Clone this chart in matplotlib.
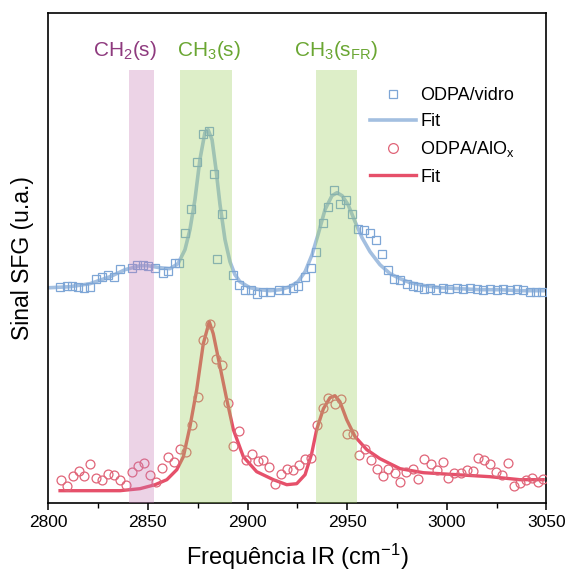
import numpy as np
import matplotlib
matplotlib.use('Agg')
from matplotlib import pyplot as plt

plt.rcParams['font.family'] = ['Liberation Sans', 'DejaVu Sans']
plt.rcParams['mathtext.fontset'] = 'custom'
plt.rcParams['mathtext.rm'] = 'Liberation Sans'
plt.rcParams['mathtext.it'] = 'Liberation Sans'

# ODPA/vidro (measured)
vidro_x = [2805.9, 2809.2, 2812.0, 2815.1, 2818.1, 2820.9, 2823.9, 2826.8, 2830.1, 2833.0,
           2836.0, 2841.9, 2844.4, 2847.4, 2850.2, 2853.6, 2857.4, 2860.2, 2863.6, 2865.8,
           2868.6, 2871.6, 2874.5, 2877.8, 2880.8, 2883.4, 2884.6, 2887.1, 2892.6, 2895.9,
           2898.7, 2901.8, 2904.6, 2907.6, 2911.3, 2916.0, 2919.3, 2922.7, 2925.5, 2928.9,
           2931.7, 2934.4, 2938.0, 2940.6, 2943.4, 2946.4, 2949.4, 2952.6, 2955.6, 2958.5,
           2961.5, 2964.5, 2967.4, 2970.7, 2973.5, 2976.6, 2979.9, 2982.9, 2985.7, 2988.6,
           2991.6, 2994.6, 2998.3, 3001.3, 3005.0, 3008.3, 3011.7, 3015.1, 3018.4, 3021.7,
           3025.1, 3028.4, 3031.8, 3035.1, 3038.1, 3041.8, 3044.8, 3047.7]
vidro_y = [2.16, 2.17, 2.17, 2.16, 2.15, 2.16, 2.24, 2.26, 2.28, 2.26,
           2.34, 2.35, 2.38, 2.38, 2.37, 2.35, 2.30, 2.32, 2.40, 2.40,
           2.70, 2.94, 3.41, 3.69, 3.72, 3.29, 2.44, 2.89, 2.28, 2.18,
           2.13, 2.13, 2.09, 2.11, 2.11, 2.13, 2.13, 2.15, 2.17, 2.26,
           2.35, 2.51, 2.80, 2.96, 3.13, 2.99, 3.03, 2.89, 2.74, 2.73,
           2.70, 2.63, 2.49, 2.33, 2.24, 2.23, 2.19, 2.17, 2.16, 2.14,
           2.15, 2.13, 2.15, 2.14, 2.15, 2.14, 2.15, 2.14, 2.13, 2.14,
           2.13, 2.14, 2.13, 2.14, 2.13, 2.11, 2.11, 2.11]

# ODPA/vidro (fit)
vidro_fit_x = [2800.9, 2810.9, 2820.9, 2831.0, 2838.5, 2846.0, 2850.0, 2856.0, 2861.0, 2865.1,
               2868.6, 2871.1, 2873.6, 2876.1, 2878.6, 2880.2, 2882.2, 2884.2, 2886.2, 2888.7,
               2891.2, 2893.7, 2896.2, 2901.2, 2906.3, 2911.3, 2916.3, 2921.3, 2925.3, 2928.9,
               2932.4, 2935.4, 2938.9, 2942.4, 2944.9, 2947.5, 2950.5, 2954.0, 2957.5, 2961.5,
               2966.5, 2971.6, 2976.6, 2981.6, 2989.1, 2996.7, 3006.7, 3016.8, 3026.8, 3036.8,
               3049.3]
vidro_fit_y = [2.15, 2.16, 2.19, 2.26, 2.33, 2.37, 2.37, 2.35, 2.34, 2.39,
               2.53, 2.73, 3.03, 3.43, 3.70, 3.73, 3.63, 3.33, 2.98, 2.63,
               2.41, 2.28, 2.21, 2.15, 2.13, 2.12, 2.13, 2.16, 2.21, 2.31,
               2.48, 2.68, 2.93, 3.07, 3.10, 3.07, 2.98, 2.81, 2.65, 2.51,
               2.38, 2.29, 2.24, 2.20, 2.17, 2.15, 2.14, 2.13, 2.13, 2.12,
               2.12]

# ODPA/AlOx (measured)
alox_x = [2806.2, 2809.2, 2812.2, 2815.4, 2818.1, 2820.9, 2823.9, 2827.1, 2830.1, 2833.0,
          2836.0, 2839.0, 2842.2, 2845.2, 2848.2, 2851.1, 2854.1, 2857.2, 2860.2, 2863.1,
          2866.1, 2869.1, 2872.0, 2875.0, 2877.8, 2881.2, 2884.0, 2887.0, 2890.1, 2892.9,
          2895.9, 2899.1, 2902.1, 2905.1, 2907.9, 2910.9, 2913.8, 2916.8, 2920.0, 2923.0,
          2926.0, 2928.9, 2931.9, 2934.7, 2937.7, 2940.6, 2943.9, 2946.9, 2949.8, 2953.1,
          2956.0, 2959.0, 2962.0, 2965.2, 2967.9, 2970.7, 2974.0, 2976.6, 2979.6, 2982.9,
          2985.7, 2988.8, 2992.0, 2995.0, 2998.0, 3000.8, 3003.8, 3007.0, 3010.0, 3013.0,
          3015.9, 3018.9, 3021.7, 3024.7, 3027.9, 3030.9, 3033.8, 3036.8, 3039.8, 3042.9,
          3045.9, 3048.4]
alox_y = [0.23, 0.17, 0.27, 0.32, 0.27, 0.39, 0.25, 0.23, 0.29, 0.28,
          0.23, 0.18, 0.31, 0.37, 0.40, 0.28, 0.21, 0.35, 0.46, 0.41,
          0.54, 0.51, 0.78, 1.06, 1.63, 1.79, 1.44, 1.38, 1.00, 0.57,
          0.72, 0.43, 0.49, 0.42, 0.43, 0.36, 0.19, 0.29, 0.34, 0.33,
          0.38, 0.44, 0.45, 0.78, 0.95, 1.05, 0.99, 1.04, 0.69, 0.69,
          0.48, 0.54, 0.43, 0.34, 0.27, 0.34, 0.30, 0.21, 0.31, 0.34,
          0.24, 0.44, 0.39, 0.33, 0.41, 0.25, 0.30, 0.30, 0.33, 0.32,
          0.45, 0.43, 0.39, 0.31, 0.28, 0.40, 0.17, 0.20, 0.23, 0.25,
          0.21, 0.24]

# ODPA/AlOx (fit)
alox_fit_x = [2805.9, 2820.9, 2836.0, 2846.0, 2853.6, 2859.5, 2864.5, 2867.8, 2871.1, 2874.5,
              2877.8, 2880.8, 2882.8, 2886.2, 2889.6, 2892.9, 2897.9, 2904.6, 2913.0, 2919.7,
              2924.7, 2928.9, 2932.2, 2934.7, 2938.1, 2941.4, 2943.9, 2946.4, 2949.8, 2954.0,
              2959.9, 2966.5, 2976.6, 2988.3, 3005.0, 3021.7, 3036.8, 3048.4]
alox_fit_y = [0.12, 0.12, 0.12, 0.14, 0.18, 0.23, 0.33, 0.46, 0.76, 1.13,
              1.59, 1.81, 1.69, 1.36, 1.03, 0.73, 0.46, 0.31, 0.23, 0.18,
              0.19, 0.28, 0.49, 0.73, 0.94, 1.05, 1.07, 1.01, 0.83, 0.66,
              0.53, 0.44, 0.34, 0.30, 0.28, 0.26, 0.23, 0.23]

# vibrational mode bands
bands = [(2840.6, 2853.3), (2866.3, 2892.3), (2934.2, 2955.0)]
band_labels = ['CH$_2$(s)', 'CH$_3$(s)', 'CH$_3$(s$_{\\mathrm{FR}}$)']
band_label_x = [2838.5, 2880.8, 2944.5]
band_colors = ['#c77bb5', '#9acd5a', '#9acd5a']
label_colors = ['#8e3a7e', '#6aa632', '#6aa632']

fig = plt.figure(figsize=(5.67, 5.73), dpi=100)
ax = fig.add_axes([0.0852, 0.1227, 0.8783, 0.8546])

ax.plot(vidro_x, vidro_y, 's', mfc='none', mec='#7ea6d6', mew=0.9, ms=5.8,
        label='ODPA/vidro', zorder=3)
ax.plot(vidro_fit_x, vidro_fit_y, '-', color='#a3bfe0', lw=2.6, label='Fit', zorder=2)
ax.plot(alox_x, alox_y, 'o', mfc='none', mec='#e06478', mew=0.9, ms=6.4,
        label='ODPA/AlO$_\\mathrm{x}$', zorder=3)
ax.plot(alox_fit_x, alox_fit_y, '-', color='#e6506a', lw=2.4, label='Fit', zorder=2)

for (x0, x1), c in zip(bands, band_colors):
    ax.axvspan(x0, x1, ymin=0, ymax=0.8836, color=c, alpha=0.33, lw=0, zorder=4)
for lab, xc, c in zip(band_labels, band_label_x, label_colors):
    ax.text(xc, 4.52, lab, color=c, fontsize=15, ha='center', va='center')

ax.set_xlim(2800, 3050)
ax.set_ylim(0, 4.897)
ax.set_xticks(np.arange(2800, 3051, 50))
ax.set_xticks(np.arange(2825, 3050, 50), minor=True)
ax.set_yticks([])
ax.tick_params(axis='x', which='major', direction='out', length=5, width=1.1,
               labelsize=12.5, pad=4)
ax.tick_params(axis='x', which='minor', direction='out', length=3.5, width=1.0)
for s in ax.spines.values():
    s.set_linewidth(1.2)

ax.set_xlabel('Frequência IR (cm$^{-1}$)', fontsize=17, labelpad=8)
ax.set_ylabel('Sinal SFG (u.a.)', fontsize=16.5, labelpad=10)

leg = ax.legend(loc='upper left', bbox_to_anchor=(0.645, 0.848), frameon=False,
                fontsize=13, handlelength=2.6, handletextpad=0.2,
                labelspacing=0.5, borderpad=0, borderaxespad=0, markerscale=1.1)

fig.savefig('out.png', dpi=100)
